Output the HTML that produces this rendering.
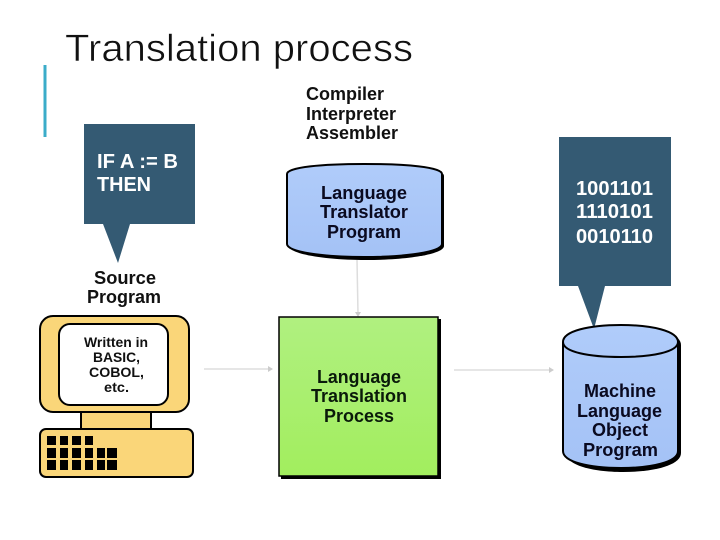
<!DOCTYPE html>
<html>
<head>
<meta charset="utf-8">
<style>
html,body{margin:0;padding:0;background:#fff}
svg{display:block}
text{font-family:"Liberation Sans",sans-serif;text-anchor:start}
</style>
</head>
<body>
<svg width="720" height="540" viewBox="0 0 720 540" xmlns="http://www.w3.org/2000/svg">
<defs>
<linearGradient id="g" x1="0" y1="0" x2="0" y2="1"><stop offset="0" stop-color="#b0f080"/><stop offset="1" stop-color="#a2ee5e"/></linearGradient>
<linearGradient id="b" x1="0" y1="0" x2="0" y2="1"><stop offset="0" stop-color="#b0ccfa"/><stop offset="1" stop-color="#a4c2f6"/></linearGradient>
</defs>
<rect width="720" height="540" fill="#fff"/>
<text x="65" y="61" font-size="38" fill="#111" stroke="#fff" stroke-width="0.6" paint-order="fill stroke" textLength="348" lengthAdjust="spacingAndGlyphs">Translation process</text>
<rect x="43.5" y="65" width="3" height="72" fill="#3bacc9"/>

<!-- Callout left -->
<path d="M84 124H195V224H130L118 263L103 224H84Z" fill="#345a73"/>
<text x="97" y="168" font-size="20" font-weight="bold" fill="#fff" textLength="81" lengthAdjust="spacingAndGlyphs">IF A := B</text>
<text x="97" y="191" font-size="20" font-weight="bold" fill="#fff" textLength="54" lengthAdjust="spacingAndGlyphs">THEN</text>

<!-- Top labels -->
<g font-size="18" font-weight="bold" fill="#111">
<text x="306" y="100" textLength="78" lengthAdjust="spacingAndGlyphs">Compiler</text>
<text x="306" y="120" textLength="90" lengthAdjust="spacingAndGlyphs">Interpreter</text>
<text x="306" y="139" textLength="92" lengthAdjust="spacingAndGlyphs">Assembler</text>
</g>

<!-- Translator cylinder -->
<path d="M289 176C289 168 325 166 366 166C408 166 444 168 444 176V246C444 254 408 260 366 260C325 260 289 254 289 246Z" fill="#000"/>
<path d="M287 174C287 167 323 164 364 164C406 164 442 167 442 174V244C442 252 406 257 364 257C323 257 287 252 287 244Z" fill="url(#b)" stroke="#000" stroke-width="2"/>
<g font-size="18.3" font-weight="bold" fill="#0a0a20">
<text x="321" y="199" textLength="86" lengthAdjust="spacingAndGlyphs">Language</text>
<text x="320" y="218" textLength="88" lengthAdjust="spacingAndGlyphs">Translator</text>
<text x="327" y="238" textLength="74" lengthAdjust="spacingAndGlyphs">Program</text>
</g>

<!-- Right callout -->
<path d="M559 137H671V286H605L594 329L578 286H559Z" fill="#345a73"/>
<g font-size="20.3" font-weight="bold" fill="#fff">
<text x="576" y="195" textLength="77" lengthAdjust="spacingAndGlyphs">1001101</text>
<text x="576" y="218" textLength="77" lengthAdjust="spacingAndGlyphs">1110101</text>
<text x="576" y="243" textLength="77" lengthAdjust="spacingAndGlyphs">0010110</text>
</g>

<!-- Connector vertical -->
<path d="M357 260L358 314" stroke="#ddd" stroke-width="1.5" fill="none"/>
<path d="M355 312H361L358 317Z" fill="#ccc"/>

<!-- Green process -->
<rect x="281" y="319" width="160" height="160" fill="#000"/>
<rect x="279" y="317" width="159" height="159" fill="url(#g)" stroke="#000" stroke-width="1.5"/>
<g font-size="18.3" font-weight="bold" fill="#0a1a0a">
<text x="317" y="383" textLength="84" lengthAdjust="spacingAndGlyphs">Language</text>
<text x="311" y="402" textLength="96" lengthAdjust="spacingAndGlyphs">Translation</text>
<text x="324" y="422" textLength="70" lengthAdjust="spacingAndGlyphs">Process</text>
</g>

<!-- Horizontal connectors -->
<path d="M204 369H270" stroke="#ddd" stroke-width="1.5"/>
<path d="M454 370H551" stroke="#ddd" stroke-width="1.5"/>
<path d="M268 366L273 369L268 372Z" fill="#ccc"/>
<path d="M549 367L554 370L549 373Z" fill="#ccc"/>

<!-- Source Program -->
<g font-size="18" font-weight="bold" fill="#111">
<text x="94" y="284" textLength="62" lengthAdjust="spacingAndGlyphs">Source</text>
<text x="87" y="303" textLength="74" lengthAdjust="spacingAndGlyphs">Program</text>
</g>

<!-- Computer -->
<rect x="81" y="412" width="70" height="18" fill="#fad679" stroke="#000" stroke-width="2"/>
<rect x="40" y="316" width="149" height="96" rx="13" fill="#fad679" stroke="#000" stroke-width="2"/>
<rect x="59" y="324" width="109" height="81" rx="11" fill="#fff" stroke="#000" stroke-width="2"/>
<g font-size="14" font-weight="bold" fill="#111">
<text x="84" y="347" textLength="64" lengthAdjust="spacingAndGlyphs">Written in</text>
<text x="93" y="362" textLength="47" lengthAdjust="spacingAndGlyphs">BASIC,</text>
<text x="89" y="377" textLength="55" lengthAdjust="spacingAndGlyphs">COBOL,</text>
<text x="104" y="392" textLength="25" lengthAdjust="spacingAndGlyphs">etc.</text>
</g>
<rect x="40" y="429" width="153" height="48" rx="6" fill="#fad679" stroke="#000" stroke-width="2"/>
<g fill="#000">
<rect x="47" y="436" width="9" height="9"/><rect x="60" y="436" width="8" height="9"/><rect x="72" y="436" width="9" height="9"/><rect x="85" y="436" width="8" height="9"/>
<rect x="47" y="448" width="9" height="10"/><rect x="60" y="448" width="8" height="10"/><rect x="72" y="448" width="9" height="10"/><rect x="85" y="448" width="8" height="10"/><rect x="97" y="448" width="8" height="10"/><rect x="107" y="448" width="10" height="10"/>
<rect x="47" y="460" width="9" height="10"/><rect x="60" y="460" width="8" height="10"/><rect x="72" y="460" width="9" height="10"/><rect x="85" y="460" width="8" height="10"/><rect x="97" y="460" width="8" height="10"/><rect x="107" y="460" width="10" height="10"/>
</g>

<!-- Machine cylinder -->
<path d="M566 345C566 333 592 327 623 327C655 327 681 333 681 345V453C681 465 655 472 623 472C592 472 566 465 566 453Z" fill="#000"/>
<path d="M563 342C563 331 589 325 621 325C652 325 678 331 678 342V451C678 462 652 468 621 468C589 468 563 462 563 451Z" fill="url(#b)" stroke="#000" stroke-width="2"/>
<path d="M563 342C563 352 589 357 621 357C652 357 678 352 678 342" fill="none" stroke="#000" stroke-width="2"/>
<g font-size="18.3" font-weight="bold" fill="#0a0a20">
<text x="584" y="397" textLength="72" lengthAdjust="spacingAndGlyphs">Machine</text>
<text x="577" y="417" textLength="85" lengthAdjust="spacingAndGlyphs">Language</text>
<text x="592" y="436" textLength="56" lengthAdjust="spacingAndGlyphs">Object</text>
<text x="583" y="456" textLength="75" lengthAdjust="spacingAndGlyphs">Program</text>
</g>
</svg>
</body>
</html>
